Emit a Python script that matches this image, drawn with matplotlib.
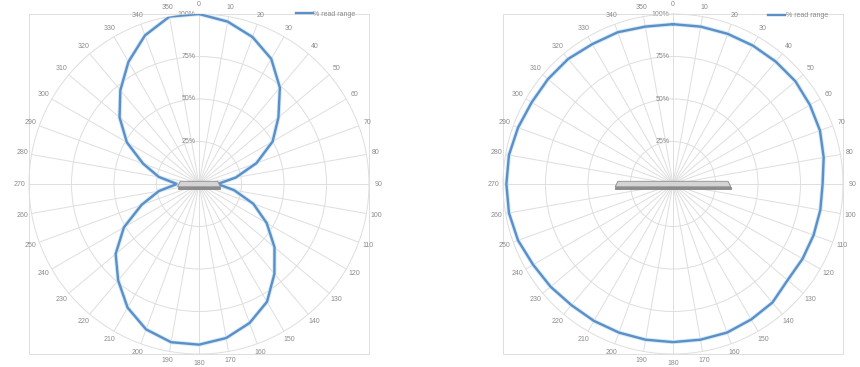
import numpy as np
import matplotlib.pyplot as plt
from matplotlib.patches import Polygon, Rectangle
from matplotlib.transforms import offset_copy

plt.rcParams['font.family'] = ['Liberation Sans', 'DejaVu Sans']

# angles 0..350 (deg, clockwise from north)
angles = list(range(0, 360, 10))
angle_labels = [str(a) for a in angles]

# % read range, left chart (figure-8 pattern)
read_left = [100, 97, 92, 85, 74, 61, 50, 36, 22, 11,
             21, 34, 46, 58, 69, 80, 87, 92, 94.5, 94.5,
             91, 84, 74, 64, 51, 36, 24, 13, 24, 35,
             49, 61, 72, 83, 93, 100]

# % read range, right chart (near omni-directional)
read_right = [94, 94, 94, 94, 94, 94, 93, 92, 90, 88,
              88, 88, 88, 88, 91, 92, 93, 93, 93, 93,
              93, 93, 93, 94, 95, 97, 98, 98, 98, 97,
              96, 96, 96, 95, 95, 94]

r_ticks = [0, 25, 50, 75, 100]
r_tick_labels = ['0%', '25%', '50%', '75%', '100%']
series_name = '% read range'

line_color = '#5b8fc7'
grid_color = '#dedede'
text_color = '#8a8a8a'

fig = plt.figure(figsize=(8.6, 3.67), dpi=100)


def radar(rect, values, tag_half_w, legend_xy):
    ax = fig.add_axes(rect, projection='polar')
    ax.set_theta_zero_location('N')
    ax.set_theta_direction(-1)
    theta = np.deg2rad(angles + [angles[0]])
    vals = values + [values[0]]
    ax.plot(theta, vals, color='#d3e9f7', lw=3.0, solid_joinstyle='miter', zorder=3)
    ax.plot(theta, vals, color=line_color, lw=1.7, label=series_name,
            solid_joinstyle='miter', zorder=4)
    ax.set_ylim(0, 100)
    ax.set_yticks([25, 50, 75])
    ax.set_yticklabels([])
    ax.set_thetagrids(angles, angle_labels)
    ax.tick_params(axis='x', labelsize=5, labelcolor=text_color, pad=-3.5)
    ax.grid(True, color=grid_color, lw=0.7)
    ax.spines['polar'].set_color(grid_color)
    ax.spines['polar'].set_linewidth(0.7)

    tr = offset_copy(ax.transData, fig=fig, x=-2.5, y=0, units='points')
    for v, lab in zip(r_ticks, r_tick_labels):
        ax.text(0, v, lab, transform=tr, ha='right', va='center',
                fontsize=5, color=text_color, zorder=2)

    # plot-area border
    ax.add_patch(Rectangle((0, 0), 1, 1, transform=ax.transAxes, fill=False,
                           edgecolor=grid_color, lw=0.7, clip_on=False))

    # tag drawing in the middle
    top = Polygon([(0.5 - tag_half_w + 0.008, 0.508), (0.5 + tag_half_w - 0.008, 0.508),
                   (0.5 + tag_half_w, 0.492), (0.5 - tag_half_w, 0.492)],
                  closed=True, transform=ax.transAxes, facecolor='#d4d4d4',
                  edgecolor='#8c8c8c', lw=0.6, zorder=5, clip_on=False)
    ax.add_patch(top)
    ax.add_patch(Rectangle((0.5 - tag_half_w, 0.484), 2 * tag_half_w, 0.008,
                           transform=ax.transAxes, facecolor='#8c8c8c',
                           edgecolor='#7a7a7a', lw=0.5, zorder=5, clip_on=False))

    ax.legend(loc='center left', bbox_to_anchor=legend_xy, frameon=False,
              fontsize=5, handlelength=2.4, handletextpad=0.1, borderpad=0,
              labelcolor=text_color)
    return ax


radar([29 / 860, 13 / 367, 340 / 860, 340 / 367], read_left, 0.063, (0.775, 1.0))
radar([503 / 860, 13 / 367, 340 / 860, 340 / 367], read_right, 0.17, (0.77, 0.995))

fig.savefig('out.png', dpi=100)
